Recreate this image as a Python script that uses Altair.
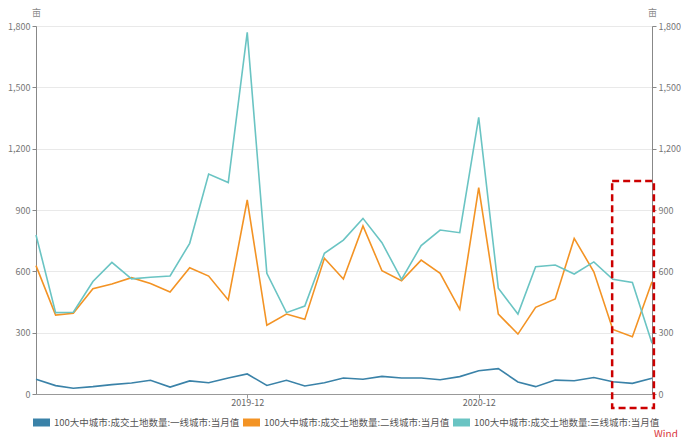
import altair as alt
import pandas as pd

months = pd.date_range("2019-01-01", "2021-09-01", freq="MS").strftime("%Y-%m-%d").tolist()

s1 = "100大中城市:成交土地数量:一线城市:当月值"
s2 = "100大中城市:成交土地数量:二线城市:当月值"
s3 = "100大中城市:成交土地数量:三线城市:当月值"
series_names = [s1, s2, s3]
series_colors = ["#3a82a8", "#f39324", "#6ac4c3"]

tier1 = [72, 41, 28, 36, 46, 54, 67, 34, 64, 55, 78, 98, 42, 67, 39, 55, 78, 72, 86, 78,
         78, 70, 85, 114, 124, 59, 36, 68, 65, 81, 60, 52, 77]
tier2 = [628, 386, 395, 515, 538, 569, 541, 499, 618, 577, 460, 949, 336, 391, 365, 664,
         562, 822, 603, 554, 655, 590, 414, 1009, 391, 293, 424, 465, 761, 598, 316, 280, 549]
tier3 = [778, 398, 400, 550, 644, 563, 571, 577, 737, 1076, 1034, 1769, 590, 398, 430, 688,
         753, 859, 740, 561, 726, 802, 789, 1353, 517, 391, 623, 631, 587, 646, 561, 545, 248]

rows = []
for name, vals in zip(series_names, [tier1, tier2, tier3]):
    for m, v in zip(months, vals):
        rows.append({"month": m, "series": name, "value": v})
df = pd.DataFrame(rows)

# highlight box (annotation)
box_start = ["2021-06-30"]
box_end = ["2021-09-04"]
box_low = [-68]
box_high = [1042]
box_df = pd.DataFrame({"month": box_start, "month_end": box_end, "y": box_low, "y2": box_high})

font = "Noto Sans CJK SC"
xdomain = [alt.DateTime(year=2019, month=1, date=1, utc=True),
           alt.DateTime(year=2021, month=9, date=1, utc=True)]
xscale = alt.Scale(type="utc", domain=xdomain)
yscale = alt.Scale(domain=[0, 1800], nice=False)
yticks = [0, 300, 600, 900, 1200, 1500, 1800]

x_axis = alt.Axis(values=[alt.DateTime(year=2019, month=12, date=1, utc=True),
                          alt.DateTime(year=2020, month=12, date=1, utc=True)],
                  labelExpr="utcFormat(datum.value, '%Y-%m')", title=None, grid=False,
                  domainColor="#999", tickColor="#999", tickSize=4, labelColor="#666",
                  labelFontSize=9, labelPadding=0, labelFont=font, labelAngle=0)


def x_enc():
    return alt.X("month:T", scale=xscale, axis=x_axis)


def y_axis(orient):
    return alt.Axis(orient=orient, values=yticks, format=",.0f",
                    title="亩", titleAngle=0, titleX=0, titleY=-9, titleAlign="center",
                    titleFontSize=9, titleFontWeight="normal", titleColor="#888",
                    titleFont=font, grid=(orient == "left"), gridColor="#e9e9e9",
                    domainColor="#888", tickColor="#888",
                    tickSize=4, labelColor="#777", labelFontSize=9, labelFont=font)


legend_x = [-7, 203, 413]
layers = []
for i, (name, color) in enumerate(zip(series_names, series_colors)):
    layers.append(
        alt.Chart(df).transform_filter(alt.datum.series == name).mark_line(strokeWidth=1.6).encode(
            x=x_enc(),
            y=alt.Y("value:Q", scale=yscale, axis=y_axis("left") if i == 0 else None),
            color=alt.Color("series:N", scale=alt.Scale(domain=[name], range=[color]),
                            legend=alt.Legend(orient="none", legendX=legend_x[i], legendY=384,
                                              title=None, symbolType="stroke",
                                              symbolSize=289, symbolStrokeWidth=8, symbolOpacity=1,
                                              labelFontSize=9.5, labelColor="#555", labelFont=font,
                                              labelLimit=300, labelOffset=0)),
        )
    )

right_axis = alt.Chart(df).mark_line(opacity=0).encode(
    x=x_enc(),
    y=alt.Y("value:Q", scale=yscale, axis=y_axis("right")),
    detail="series:N",
)

box = alt.Chart(box_df).mark_rect(fill=None, fillOpacity=0, stroke="#cc0000", strokeWidth=2.5,
                                  strokeDash=[7, 4]).encode(
    x=x_enc(),
    x2="month_end:T",
    y=alt.Y("y:Q", scale=yscale, axis=None),
    y2="y2:Q",
)

wind = alt.Chart(pd.DataFrame({"t": ["Wind"]})).mark_text(
    color="#d9363e", fontSize=10, font=font, align="left", baseline="top").encode(
    text="t:N", x=alt.value(618), y=alt.value(404))

chart = alt.layer(*layers, right_axis, box, wind).resolve_scale(
    y="independent", color="independent").properties(
    width=616, height=368, autosize="none",
    padding={"left": 36, "top": 26, "right": 29, "bottom": 43},
).configure_view(stroke=None).configure(background="white")

chart.save("out.html", embed_options={"renderer": "svg", "actions": False})
